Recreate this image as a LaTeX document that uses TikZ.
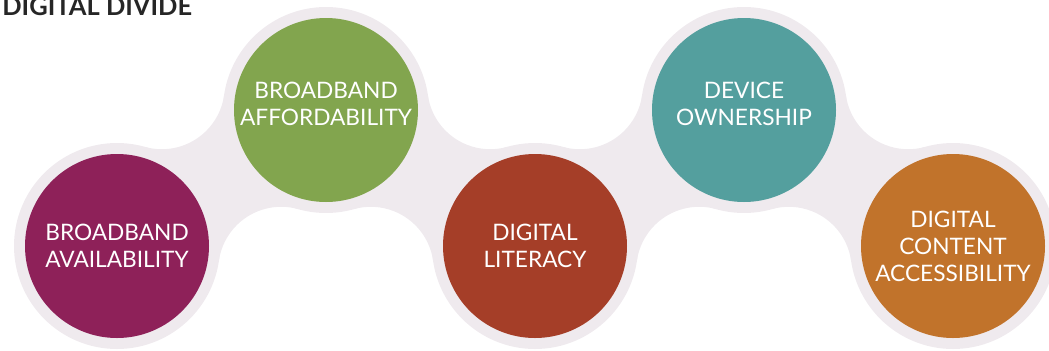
\documentclass[tikz,border=0pt]{standalone}
\usepackage{fontspec}
\setsansfont{Lato}
\usetikzlibrary{calc}
\definecolor{textDark}{HTML}{262626}
\definecolor{haloGrey}{HTML}{EFEAEE}
\definecolor{availFill}{HTML}{8E2159}
\definecolor{affordFill}{HTML}{82A54E}
\definecolor{literacyFill}{HTML}{A53E28}
\definecolor{deviceFill}{HTML}{549F9E}
\definecolor{contentFill}{HTML}{C1732B}
\tikzset{
  halo/.style={fill=haloGrey, draw=none},
  disc/.style={circle, draw=none, minimum size=3.68cm, inner sep=0pt},
  topicText/.style={font=\sffamily\fontsize{12.9}{15.3}\selectfont, text=white,
                    align=center, inner sep=0pt},
  mainTitle/.style={font=\sffamily\bfseries\fontsize{14.5}{17}\selectfont,
                    text=textDark, inner sep=0pt}
}

\begin{document}
\begin{tikzpicture}[font=\sffamily]
\useasboundingbox (0,0) rectangle (20.98,7);

% ------------------------------------------------------------
% centres of the five topics (zig-zag)
% ------------------------------------------------------------
\coordinate (c1) at (2.34,2.08);
\coordinate (c2) at (6.52,4.80);
\coordinate (c3) at (10.70,2.08);
\coordinate (c4) at (14.88,4.80);
\coordinate (c5) at (19.06,2.08);

% ------------------------------------------------------------
% soft band: filleted bridges + halo circles
% ------------------------------------------------------------
\foreach \a/\b in {c1/c2,c2/c3,c3/c4,c4/c5}{
  \coordinate (m) at ($(\a)!0.5!(\b)$);
  \coordinate (fl) at ($(m)!2.19cm!90:(\b)$);
  \coordinate (fr) at ($(m)!2.19cm!-90:(\b)$);
  % bridge bounded by two concave fillet arcs
  \fill[halo] let \p1=(fl), \p2=(fr), \p3=(\a), \p4=(\b),
      \n1={atan2(\y3-\y1,\x3-\x1)}, \n2={atan2(\y4-\y1,\x4-\x1)},
      \n3={atan2(\y4-\y2,\x4-\x2)}, \n4={atan2(\y3-\y2,\x3-\x2)} in
    (\a) -- ($(fl)!1.26cm!(\a)$) arc[start angle=\n1, end angle=\n2, radius=1.26cm]
    -- (\b) -- ($(fr)!1.26cm!(\b)$) arc[start angle=\n3, end angle=\n4, radius=1.26cm]
    -- cycle;
}
\foreach \c in {c1,c2,c3,c4,c5}
  \fill[halo] (\c) circle[radius=2.06cm];

% ------------------------------------------------------------
% coloured discs
% ------------------------------------------------------------
\node[disc, fill=availFill] (avail) at (c1) {};
\node[disc, fill=affordFill] (afford) at (c2) {};
\node[disc, fill=literacyFill] (literacy) at (c3) {};
\node[disc, fill=deviceFill] (device) at (c4) {};
\node[disc, fill=contentFill] (content) at (c5) {};

\node[topicText] (availText) at (avail.center) {BROADBAND\\AVAILABILITY};
\node[topicText] (affordText) at ([yshift=0.12cm]afford.center) {BROADBAND\\AFFORDABILITY};
\node[topicText] (literacyText) at (literacy.center) {DIGITAL\\LITERACY};
\node[topicText] (deviceText) at ([yshift=0.12cm]device.center) {DEVICE\\OWNERSHIP};
\node[topicText] (contentText) at (content.center) {DIGITAL\\CONTENT\\ACCESSIBILITY};

% title, clipped by the top edge
\node[mainTitle, anchor=base west] (title) at (0.04,6.70) {DIGITAL DIVIDE};

\end{tikzpicture}
\end{document}
